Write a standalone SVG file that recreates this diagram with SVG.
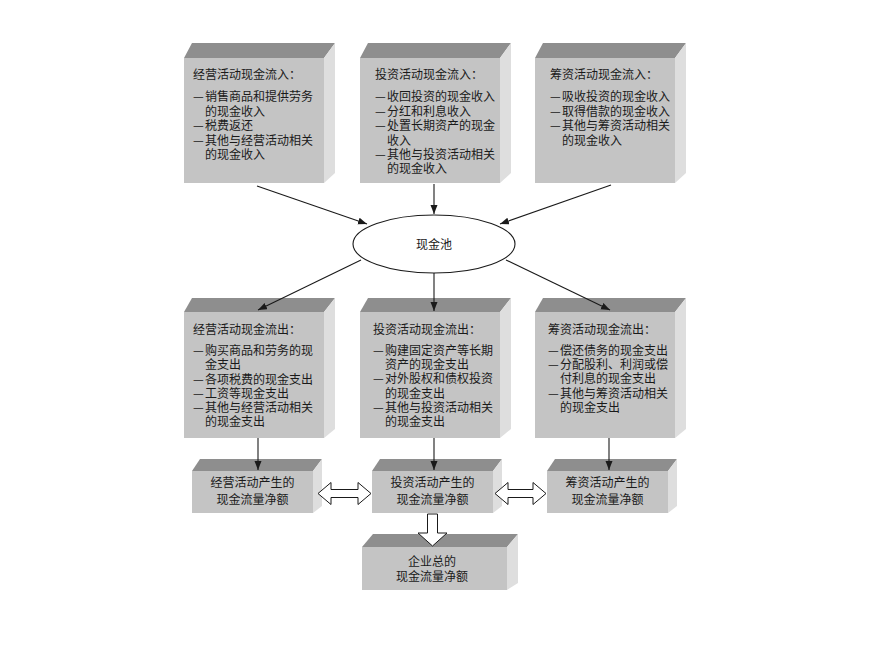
<svg xmlns="http://www.w3.org/2000/svg" width="878" height="667" viewBox="0 0 878 667">
<style>
.front{fill:#c4c4c4}
.top{fill:#8e8e8e}
.side{fill:#dedede}
text{font-family:"Noto Sans CJK SC","Noto Sans",sans-serif;font-size:12px;fill:#1a1a1a}
.c{text-anchor:middle}
.ln{stroke:#1a1a1a;stroke-width:1.1;fill:none;marker-end:url(#ah)}
.hol{fill:#ffffff;stroke:#1a1a1a;stroke-width:1}
</style>
<defs>
<marker id="ah" markerUnits="userSpaceOnUse" markerWidth="10" markerHeight="8" refX="9" refY="3.5" orient="auto">
<path d="M0,0 L9,3.5 L0,7 z" fill="#1a1a1a"/>
</marker>
</defs>
<rect width="878" height="667" fill="#ffffff"/>

<g id="in-operating">
<polygon class="top" points="184,58 192,43 335,43 324,58"/>
<polygon class="side" points="324,58 335,43 335,173 324,183"/>
<rect class="front" x="184" y="58" width="140" height="125"/>
<text x="193" y="79">经营活动现金流入：</text>
<text x="193" y="101">—<tspan x="205">销售商品和提供劳务</tspan></text>
<text x="205" y="115.5">的现金收入</text>
<text x="193" y="130">—<tspan x="205">税费返还</tspan></text>
<text x="193" y="144.5">—<tspan x="205">其他与经营活动相关</tspan></text>
<text x="205" y="159">的现金收入</text>
</g>

<g id="in-investing">
<polygon class="top" points="360,58 368,43 511,43 500,58"/>
<polygon class="side" points="500,58 511,43 511,173 500,183"/>
<rect class="front" x="360" y="58" width="140" height="125"/>
<text x="375" y="79">投资活动现金流入：</text>
<text x="375" y="101">—<tspan x="387">收回投资的现金收入</tspan></text>
<text x="375" y="115.5">—<tspan x="387">分红和利息收入</tspan></text>
<text x="375" y="130">—<tspan x="387">处置长期资产的现金</tspan></text>
<text x="387" y="144.5">收入</text>
<text x="375" y="159">—<tspan x="387">其他与投资活动相关</tspan></text>
<text x="387" y="173">的现金收入</text>
</g>

<g id="in-financing">
<polygon class="top" points="535,58 543,43 686,43 675,58"/>
<polygon class="side" points="675,58 686,43 686,173 675,183"/>
<rect class="front" x="535" y="58" width="140" height="125"/>
<text x="550" y="79">筹资活动现金流入：</text>
<text x="550" y="101">—<tspan x="562">吸收投资的现金收入</tspan></text>
<text x="550" y="115.5">—<tspan x="562">取得借款的现金收入</tspan></text>
<text x="550" y="130">—<tspan x="562">其他与筹资活动相关</tspan></text>
<text x="562" y="144.5">的现金收入</text>
</g>

<g id="cash-pool">
<ellipse cx="434" cy="244" rx="81" ry="29" fill="#ffffff" stroke="#1a1a1a" stroke-width="1.1"/>
<text class="c" x="434" y="248.5">现金池</text>
</g>

<g id="out-operating">
<polygon class="top" points="184,312 192,298 335,298 324,312"/>
<polygon class="side" points="324,312 335,298 335,429 324,438"/>
<rect class="front" x="184" y="312" width="140" height="126"/>
<text x="193" y="334">经营活动现金流出：</text>
<text x="193" y="355">—<tspan x="205">购买商品和劳务的现</tspan></text>
<text x="205" y="369">金支出</text>
<text x="193" y="383.5">—<tspan x="205">各项税费的现金支出</tspan></text>
<text x="193" y="397.5">—<tspan x="205">工资等现金支出</tspan></text>
<text x="193" y="411.5">—<tspan x="205">其他与经营活动相关</tspan></text>
<text x="205" y="426">的现金支出</text>
</g>

<g id="out-investing">
<polygon class="top" points="360,312 368,298 511,298 500,312"/>
<polygon class="side" points="500,312 511,298 511,429 500,438"/>
<rect class="front" x="360" y="312" width="140" height="126"/>
<text x="373" y="334">投资活动现金流出：</text>
<text x="373" y="355">—<tspan x="385">购建固定资产等长期</tspan></text>
<text x="385" y="369">资产的现金支出</text>
<text x="373" y="383">—<tspan x="385">对外股权和债权投资</tspan></text>
<text x="385" y="397.5">的现金支出</text>
<text x="373" y="411.5">—<tspan x="385">其他与投资活动相关</tspan></text>
<text x="385" y="425.5">的现金支出</text>
</g>

<g id="out-financing">
<polygon class="top" points="535,312 543,298 686,298 675,312"/>
<polygon class="side" points="675,312 686,298 686,429 675,438"/>
<rect class="front" x="535" y="312" width="140" height="126"/>
<text x="548" y="334">筹资活动现金流出：</text>
<text x="548" y="355">—<tspan x="560">偿还债务的现金支出</tspan></text>
<text x="548" y="369">—<tspan x="560">分配股利、利润或偿</tspan></text>
<text x="560" y="383">付利息的现金支出</text>
<text x="548" y="397.5">—<tspan x="560">其他与筹资活动相关</tspan></text>
<text x="560" y="411.5">的现金支出</text>
</g>

<g id="net-operating">
<polygon class="top" points="192,471 200,459 322,459 313,471"/>
<polygon class="side" points="313,471 322,459 322,506 313,513"/>
<rect class="front" x="192" y="471" width="121" height="42"/>
<text class="c" x="252.5" y="487">经营活动产生的</text>
<text class="c" x="252.5" y="504">现金流量净额</text>
</g>

<g id="net-investing">
<polygon class="top" points="372,471 380,459 502,459 493,471"/>
<polygon class="side" points="493,471 502,459 502,506 493,513"/>
<rect class="front" x="372" y="471" width="121" height="42"/>
<text class="c" x="432.5" y="487">投资活动产生的</text>
<text class="c" x="432.5" y="504">现金流量净额</text>
</g>

<g id="net-financing">
<polygon class="top" points="547,471 555,459 677,459 668,471"/>
<polygon class="side" points="668,471 677,459 677,506 668,513"/>
<rect class="front" x="547" y="471" width="121" height="42"/>
<text class="c" x="607.5" y="487">筹资活动产生的</text>
<text class="c" x="607.5" y="504">现金流量净额</text>
</g>

<g id="net-total">
<polygon class="top" points="362,547 373,534 518,534 507,547"/>
<polygon class="side" points="507,547 518,534 518,583 507,590"/>
<rect class="front" x="362" y="547" width="145" height="43"/>
<text class="c" x="432" y="566">企业总的</text>
<text class="c" x="432" y="581">现金流量净额</text>
</g>

<g id="connectors">
<line class="ln" x1="257" y1="186" x2="367" y2="224"/>
<line class="ln" x1="434" y1="184" x2="434" y2="214"/>
<line class="ln" x1="611" y1="185" x2="500" y2="224"/>
<line class="ln" x1="361" y1="260" x2="258" y2="310"/>
<line class="ln" x1="434" y1="273" x2="434" y2="311"/>
<line class="ln" x1="506" y1="260" x2="610" y2="310"/>
<line class="ln" x1="258" y1="438" x2="258" y2="470"/>
<line class="ln" x1="434" y1="438" x2="434" y2="470"/>
<line class="ln" x1="609" y1="438" x2="609" y2="470"/>
<path class="hol" d="M318,493.5 L331,482.5 L331,489.5 L358,489.5 L358,482.5 L371,493.5 L358,504.5 L358,497.5 L331,497.5 L331,504.5 Z"/>
<path class="hol" d="M495,493.5 L508,482.5 L508,489.5 L533,489.5 L533,482.5 L546,493.5 L533,504.5 L533,497.5 L508,497.5 L508,504.5 Z"/>
<path class="hol" d="M427.5,514 L437.5,514 L437.5,533 L447,533 L432.5,546 L418,533 L427.5,533 Z"/>
</g>
</svg>
